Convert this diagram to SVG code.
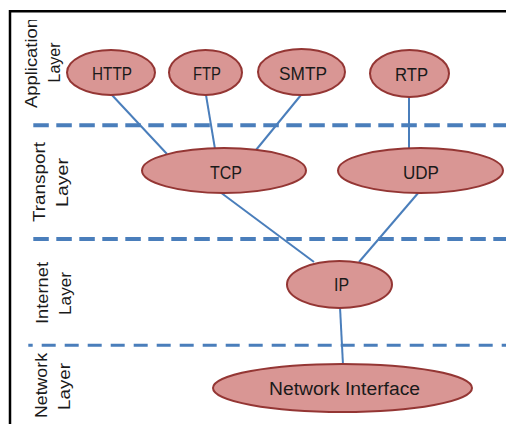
<svg xmlns="http://www.w3.org/2000/svg" width="506" height="424" viewBox="0 0 506 424">
<style>
.frame{fill:none;stroke:#000;stroke-width:2.5}
.sep{stroke:#4a7ebb;stroke-width:4;fill:none;stroke-dasharray:15.5 7.5}
.sep3{stroke:#4a7ebb;stroke-width:3;fill:none;stroke-dasharray:14 9;stroke-dashoffset:9.6}
.conn line{stroke:#4a7ebb;stroke-width:2}
.node ellipse{fill:#d99694;stroke:#943634;stroke-width:2}
.lbl{font-family:"Liberation Sans",Arial,sans-serif;font-size:18px;fill:#1a1a1a;text-anchor:middle}
.layer{font-family:"Liberation Sans",Arial,sans-serif;font-size:17px;fill:#1a1a1a;text-anchor:middle}
</style>
<defs>
<clipPath id="appclip"><rect x="0" y="20" width="506" height="404"/></clipPath>
</defs>
<rect width="506" height="424" fill="#fff"/>
<path class="frame" d="M10,424 V11.2 H506"/>
<g id="separators">
<line class="sep" x1="33.3" y1="125.2" x2="506" y2="125.2"/>
<line class="sep" x1="33.3" y1="239" x2="506" y2="239"/>
<line class="sep3" x1="28.3" y1="345.3" x2="506" y2="345.3"/>
</g>
<g id="layer-labels">
<g clip-path="url(#appclip)">
<text class="layer" transform="translate(37,63) rotate(-90)" textLength="90" lengthAdjust="spacingAndGlyphs">Application</text>
</g>
<text class="layer" transform="translate(60,62.5) rotate(-90)" textLength="40" lengthAdjust="spacingAndGlyphs">Layer</text>
<text class="layer" transform="translate(45,182) rotate(-90)" textLength="80" lengthAdjust="spacingAndGlyphs">Transport</text>
<text class="layer" transform="translate(68,182.5) rotate(-90)" textLength="49" lengthAdjust="spacingAndGlyphs">Layer</text>
<text class="layer" transform="translate(48,293) rotate(-90)" textLength="62" lengthAdjust="spacingAndGlyphs">Internet</text>
<text class="layer" transform="translate(71,293.5) rotate(-90)" textLength="43" lengthAdjust="spacingAndGlyphs">Layer</text>
<text class="layer" transform="translate(47,385.5) rotate(-90)" textLength="65" lengthAdjust="spacingAndGlyphs">Network</text>
<text class="layer" transform="translate(70,386.5) rotate(-90)" textLength="47" lengthAdjust="spacingAndGlyphs">Layer</text>
</g>
<g id="connectors" class="conn">
<line x1="111" y1="94" x2="167" y2="154"/>
<line x1="206" y1="95" x2="215" y2="149"/>
<line x1="301" y1="95" x2="256" y2="150"/>
<line x1="409" y1="97" x2="409" y2="148"/>
<line x1="220" y1="192" x2="314" y2="262"/>
<line x1="419" y1="192" x2="359" y2="262"/>
<line x1="340" y1="307" x2="343" y2="365"/>
</g>
<g id="http" class="node"><ellipse cx="111" cy="72.5" rx="44" ry="22.5"/><text class="lbl" x="112" y="80" textLength="40" lengthAdjust="spacingAndGlyphs">HTTP</text></g>
<g id="ftp" class="node"><ellipse cx="205.5" cy="72.5" rx="36.5" ry="22.5"/><text class="lbl" x="207" y="80" textLength="28" lengthAdjust="spacingAndGlyphs">FTP</text></g>
<g id="smtp" class="node"><ellipse cx="301.5" cy="72" rx="43.5" ry="23"/><text class="lbl" x="303" y="80" textLength="48" lengthAdjust="spacingAndGlyphs">SMTP</text></g>
<g id="rtp" class="node"><ellipse cx="409.5" cy="73.5" rx="39.5" ry="23.5"/><text class="lbl" x="411.5" y="81" textLength="33" lengthAdjust="spacingAndGlyphs">RTP</text></g>
<g id="tcp" class="node"><ellipse cx="224" cy="170.5" rx="82" ry="22.5"/><text class="lbl" x="226" y="179" textLength="32" lengthAdjust="spacingAndGlyphs">TCP</text></g>
<g id="udp" class="node"><ellipse cx="420.5" cy="170.5" rx="82.5" ry="22.5"/><text class="lbl" x="421" y="179" textLength="36" lengthAdjust="spacingAndGlyphs">UDP</text></g>
<g id="ip" class="node"><ellipse cx="339.5" cy="284.5" rx="52.5" ry="23.5"/><text class="lbl" x="341.5" y="291" textLength="15" lengthAdjust="spacingAndGlyphs">IP</text></g>
<g id="network-interface" class="node"><ellipse cx="342.5" cy="388" rx="129.5" ry="24"/><text class="lbl" x="344.5" y="395" textLength="151" lengthAdjust="spacingAndGlyphs">Network Interface</text></g>
</svg>
